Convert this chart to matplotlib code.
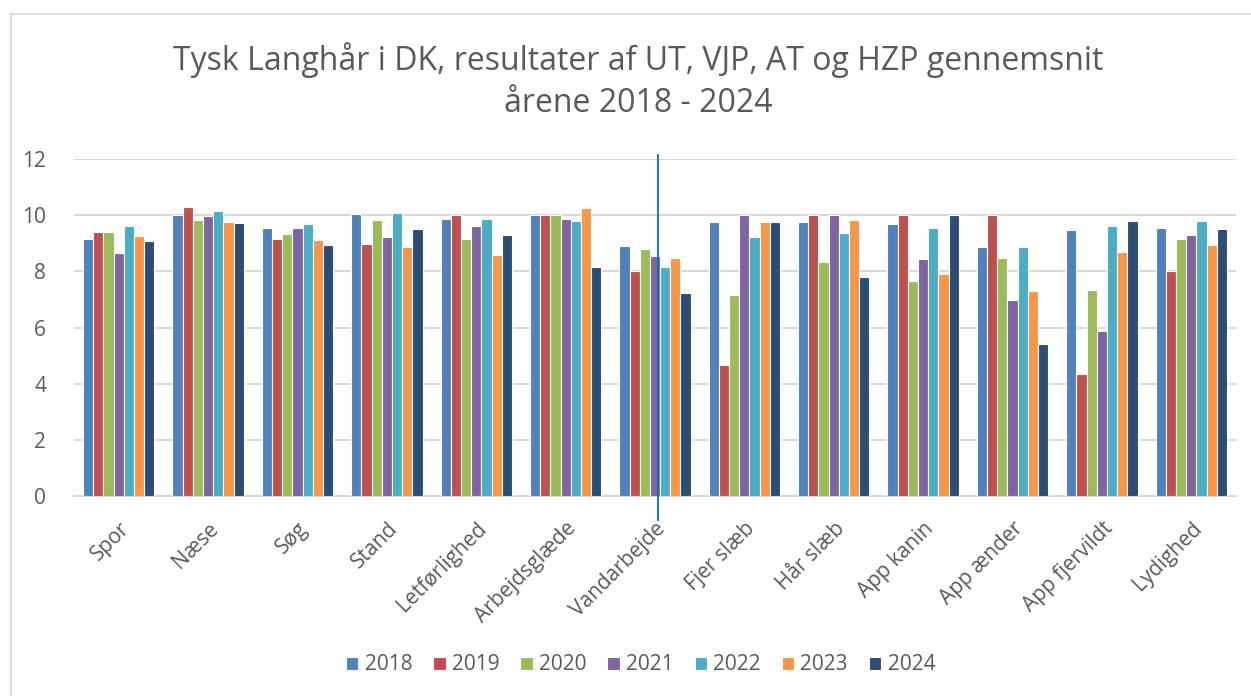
import matplotlib
matplotlib.use("Agg")
import matplotlib.pyplot as plt
import numpy as np
from matplotlib.lines import Line2D
from matplotlib.patches import Rectangle

categories = ["Spor", "Næse", "Søg", "Stand", "Letførlighed", "Arbejdsglæde",
              "Vandarbejde", "Fjer slæb", "Hår slæb", "App kanin", "App ænder",
              "App fjervildt", "Lydighed"]
years = ["2018", "2019", "2020", "2021", "2022", "2023", "2024"]

v2018 = [9.14, 10.00, 9.56, 10.05, 9.85, 9.99, 8.91, 9.77, 9.77, 9.69, 8.85, 9.46, 9.55]
v2019 = [9.39, 10.29, 9.14, 8.99, 9.99, 9.99, 8.00, 4.65, 9.99, 9.99, 9.99, 4.33, 8.00]
v2020 = [9.39, 9.82, 9.32, 9.82, 9.16, 9.99, 8.81, 7.15, 8.32, 7.66, 8.49, 7.32, 9.16]
v2021 = [8.66, 9.96, 9.55, 9.23, 9.60, 9.86, 8.56, 9.99, 9.99, 8.43, 6.99, 5.86, 9.29]
v2022 = [9.63, 10.15, 9.69, 10.06, 9.85, 9.80, 8.17, 9.24, 9.38, 9.54, 8.87, 9.60, 9.81]
v2023 = [9.27, 9.77, 9.11, 8.87, 8.57, 10.25, 8.49, 9.75, 9.82, 7.90, 7.29, 8.70, 8.92]
v2024 = [9.07, 9.71, 8.93, 9.49, 9.30, 8.16, 7.24, 9.75, 7.79, 9.99, 5.40, 9.81, 9.50]

series = [v2018, v2019, v2020, v2021, v2022, v2023, v2024]
colors = ["#4F81BD", "#C0504D", "#9BBB59", "#8064A2", "#4BACC6", "#F79646", "#2C4D75"]

W, H = 1251, 696
fig = plt.figure(figsize=(W / 100, H / 100), dpi=100)
fig.patch.set_facecolor("white")

# outer chart border
fig.patches.append(Rectangle((11 / W, -0.1), 1.2, 1 - 14 / H + 0.1,
                             transform=fig.transFigure, fill=False,
                             edgecolor="#D9D9D9", linewidth=1.2, clip_on=False))

ax = fig.add_axes([74 / W, 1 - 496 / H, (1236 - 74) / W, (496 - 159) / H])

font = "Open Sans"
txt = "#595959"

n = len(categories)
x = np.arange(n)
bw = 0.114
for i, (vals, c, yr) in enumerate(zip(series, colors, years)):
    ax.bar(x + (i - 3) * bw, vals, width=bw, color=c, edgecolor="white",
           linewidth=0.8, label=yr, zorder=3)

ax.set_xlim(-0.5, n - 0.5)
ax.set_ylim(0, 12)
ax.set_yticks(np.arange(0, 13, 2))
ax.yaxis.grid(True, color="#D9D9D9", linewidth=1.5, zorder=0)
ax.set_axisbelow(True)
for s in ["top", "right", "left"]:
    ax.spines[s].set_visible(False)
ax.spines["bottom"].set_color("#D9D9D9")
ax.spines["bottom"].set_linewidth(1.5)
ax.tick_params(axis="both", length=0, colors=txt, labelsize=15)
ax.tick_params(axis="y", pad=20)
for lab in ax.get_yticklabels():
    lab.set_fontfamily(font)
ax.set_xticks(x)
ax.set_xticklabels(categories, rotation=45, ha="right", rotation_mode="anchor",
                   fontfamily=font, fontsize=15, color=txt)
ax.tick_params(axis="x", pad=16)

fig.text(0.51, 1 - 60 / H, "Tysk Langhår i DK, resultater af UT, VJP, AT og HZP gennemsnit",
         ha="center", va="center", fontsize=23, color=txt, fontfamily=font)
fig.text(0.51, 1 - 103 / H, "årene 2018 - 2024",
         ha="center", va="center", fontsize=23, color=txt, fontfamily=font)

# vertical annotation line
fig.add_artist(Line2D([658 / W, 658 / W], [1 - 155 / H, 1 - 520 / H],
                      transform=fig.transFigure, color="#0070C0", linewidth=1.3))

leg = fig.legend(loc="center", bbox_to_anchor=(0.512, 1 - 665 / H), ncol=7,
                 frameon=False, handlelength=0.6, handleheight=0.6,
                 handletextpad=0.3, columnspacing=1.0,
                 prop={"family": font, "size": 15})
for t in leg.get_texts():
    t.set_color(txt)

fig.savefig("out.png", dpi=100)
